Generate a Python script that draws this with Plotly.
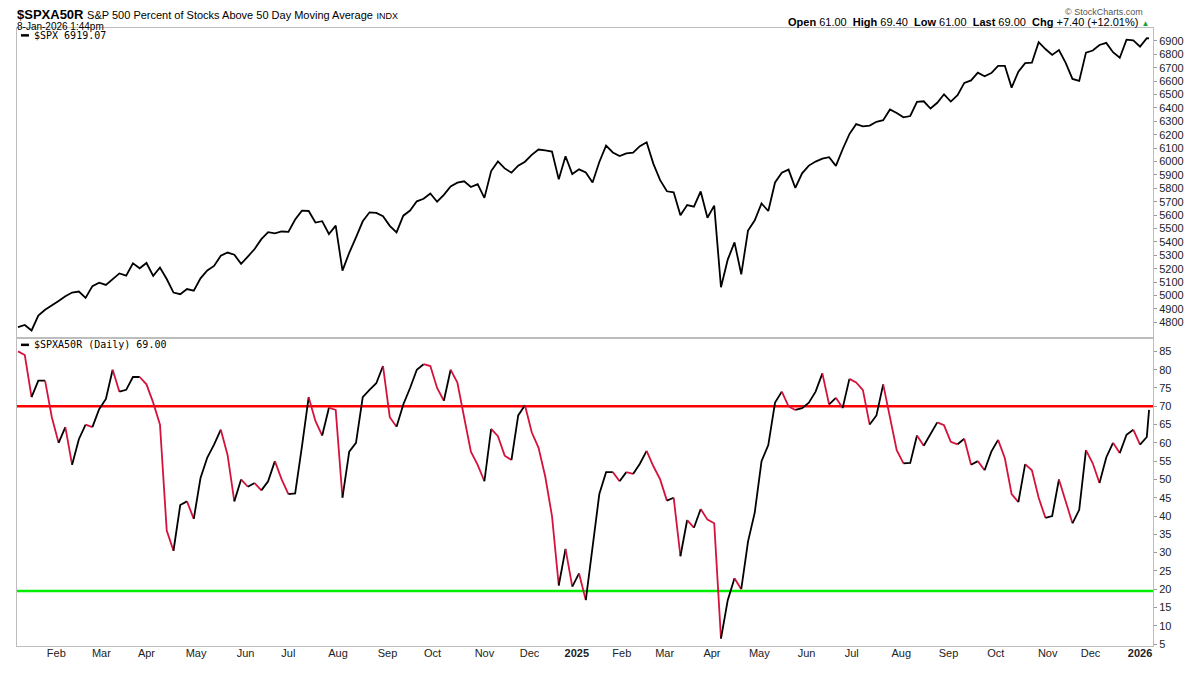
import pandas as pd
import plotly.graph_objects as go

# NYSE holidays inside the window (chart runs on trading days only)
HOLIDAYS = [
    "2024-01-15", "2024-02-19", "2024-03-29", "2024-05-27", "2024-06-19", "2024-07-04",
    "2024-09-02", "2024-11-28", "2024-12-25", "2025-01-01", "2025-01-09", "2025-01-20",
    "2025-02-17", "2025-04-18", "2025-05-26", "2025-06-19", "2025-07-04", "2025-09-01",
    "2025-11-27", "2025-12-25", "2026-01-01",
]
trading = pd.bdate_range("2024-01-08", "2026-01-08", freq="C", holidays=HOLIDAYS)
dates = trading[::3].append(trading[-1:])   # every third session + last one

# $SPX close
spx = [
    4764, 4780, 4739, 4850, 4894, 4925,
    4959, 4995, 5022, 5030, 4982, 5070, 5096,
    5079, 5124, 5165, 5149, 5241, 5203,
    5243, 5147, 5209, 5123, 5022, 5010, 5048, 5036,
    5128, 5187, 5221, 5297, 5321, 5305, 5236,
    5291, 5347, 5421, 5473, 5464, 5478,
    5475, 5567, 5633, 5631, 5545, 5555, 5459, 5522,
    5186, 5319, 5434, 5554, 5621, 5617, 5592,
    5520, 5471, 5596, 5634, 5703, 5722, 5762,
    5700, 5751, 5815, 5842, 5853, 5810, 5832,
    5729, 5929, 6001, 5949, 5917, 5969, 5999,
    6050, 6090, 6084, 6074, 5867, 6040, 5907,
    5942, 5918, 5843, 5997, 6119, 6068, 6041,
    6061, 6066, 6115, 6144, 5983, 5861,
    5778, 5770, 5599, 5675, 5663, 5777, 5581,
    5671, 5062, 5268, 5397, 5158, 5485, 5561,
    5687, 5631, 5844, 5917, 5940, 5803, 5912,
    5970, 6000, 6022, 6033, 5968, 6092, 6205,
    6279, 6263, 6269, 6297, 6309, 6389, 6362,
    6330, 6340, 6446, 6450, 6396, 6439, 6502,
    6448, 6495, 6587, 6606, 6664, 6637, 6661,
    6715, 6715, 6552, 6671, 6735, 6738, 6891, 6840,
    6796, 6832, 6737, 6617, 6602, 6813,
    6829, 6870, 6886, 6816, 6775, 6910, 6905,
    6858, 6921, 6919.07,
]

# $SPXA50R
pct = [
    85, 84, 72.5, 77, 77, 67,
    60, 64.3, 54, 61, 65, 64.3, 69.2,
    72, 80, 74, 74.5, 78, 78,
    76, 71, 65, 36, 30.5, 43, 44, 39.2,
    50.4, 56, 59.5, 63.6, 56.7, 44, 50,
    48, 49, 47, 49.5, 55, 50,
    46, 46.2, 59, 72.5, 66, 62, 69.6, 69,
    45, 57.6, 60, 72.5, 74.5, 76.3, 81,
    67, 64.4, 70.5, 75, 80, 81.5, 81,
    75, 71.5, 80, 76.5, 67, 57.6, 54,
    49.5, 63.8, 61.8, 56.5, 55.3, 67.5, 70.3,
    62.9, 58.7, 50.8, 40, 21, 31, 20.7,
    24.3, 17, 31, 46, 52, 52, 49.5,
    52, 51.5, 54.3, 57.8, 53.6, 50,
    44.2, 45, 29, 38.9, 36.8, 41.9, 39,
    38, 6.5, 17, 23, 20, 33, 41,
    55, 59.4, 71, 74, 70, 69, 69.5,
    71, 74, 79, 70.5, 72.3, 69.5, 77.5,
    76.5, 74.4, 65, 67.5, 76, 67.4, 58,
    54.4, 54.5, 62, 59.2, 62.3, 65.6, 64.8,
    60.3, 59.6, 61.1, 54, 55, 52.5, 57.6,
    60.8, 55.8, 46, 43.8, 54.2, 52.5, 45, 39.5,
    40, 50, 44, 38, 41.7, 58,
    54.4, 49, 56, 60, 57.2, 62.2, 63.6,
    59.5, 61.6, 69.0,
]

month_labels = [
    "Feb", "Mar", "Apr", "May", "Jun", "Jul", "Aug", "Sep", "Oct", "Nov", "Dec",
    "<b>2025</b>", "Feb", "Mar", "Apr", "May", "Jun", "Jul", "Aug", "Sep", "Oct", "Nov", "Dec",
    "<b>2026</b>",
]
spx_ticks = list(range(4800, 7000, 100))
pct_ticks = list(range(5, 90, 5))
upper_level = 70
lower_level = 19.5

# first session of each month -> x ticks
firsts = trading.to_series().groupby(trading.to_period("M")).first()
month_ticks = list(firsts.iloc[1:])

# page geometry in screen pixels; the browser keeps its 8px body margin,
# so the figure is 16px smaller than the 1200x675 window
PAD = 8
W, H = 1200 - 2 * PAD, 675 - 2 * PAD
L, R, T, B = 16, 1156, 28, 658   # plot area on screen
SPLIT = 344                      # border between the two panels


def px(x):
    return (x - L) / (R - L)


def py(y):
    return (B - y) / (B - T)


fig = go.Figure()

fig.add_trace(go.Scatter(
    x=dates, y=spx, mode="lines", xaxis="x2", yaxis="y2",
    line=dict(color="black", width=1.8), hoverinfo="skip",
))

# split the indicator into rising (black) and falling (red) runs
xs = list(dates)
runs = []
cur = None
for i in range(len(pct) - 1):
    up = pct[i + 1] >= pct[i]
    if cur is None or cur[0] != up:
        cur = [up, [xs[i]], [pct[i]]]
        runs.append(cur)
    cur[1].append(xs[i + 1])
    cur[2].append(pct[i + 1])

for up, rx, ry in runs:
    fig.add_trace(go.Scatter(
        x=rx, y=ry, mode="lines", xaxis="x", yaxis="y",
        line=dict(color="black" if up else "#d4123c", width=1.8),
        hoverinfo="skip",
    ))

axis_font = dict(family="Liberation Sans, Arial, sans-serif", size=11, color="#222")
rb = [dict(bounds=["sat", "mon"]), dict(values=HOLIDAYS)]
xrange = ["2024-01-05 13:00", "2026-01-09 18:00"]
frame = dict(showgrid=False, zeroline=False, showline=True, mirror=True,
             linecolor="#bdbdbd", linewidth=1)

fig.update_layout(
    width=W, height=H,
    margin=dict(l=L - PAD, r=W + PAD - R, t=T - PAD, b=H + PAD - B),
    paper_bgcolor="white", plot_bgcolor="white",
    showlegend=False,
    xaxis=dict(
        domain=[0, 1], anchor="y", range=xrange, rangebreaks=rb,
        tickvals=month_ticks, ticktext=month_labels, ticks="",
        ticklabelstandoff=-3, tickfont=axis_font, **frame,
    ),
    xaxis2=dict(
        domain=[0, 1], anchor="y2", matches="x", range=xrange, rangebreaks=rb,
        showticklabels=False, ticks="", **frame,
    ),
    yaxis=dict(
        domain=[0, py(SPLIT)], side="right", range=[4.46, 88.67],
        tickvals=pct_ticks, ticks="outside", ticklen=3, tickcolor="#999",
        tickfont=axis_font, **frame,
    ),
    yaxis2=dict(
        domain=[py(SPLIT), 1], side="right", range=[4683, 6997],
        tickvals=spx_ticks, ticks="outside", ticklen=3, tickcolor="#999",
        tickfont=axis_font, **frame,
    ),
)

fig.add_shape(type="line", xref="x domain", yref="y", x0=0, x1=1,
              y0=upper_level, y1=upper_level, line=dict(color="#ff0000", width=2.5), layer="below")
fig.add_shape(type="line", xref="x domain", yref="y", x0=0, x1=1,
              y0=lower_level, y1=lower_level, line=dict(color="#00ee00", width=2.5), layer="below")

# panel legends
mono = dict(family="DejaVu Sans Mono, monospace", size=10, color="black")
for ly, label in [(35.5, f"$SPX {spx[-1]:.2f}"), (351, f"$SPXA50R (Daily) {pct[-1]:.2f}")]:
    fig.add_shape(type="line", xref="paper", yref="paper",
                  x0=px(20), x1=px(28), y0=py(ly), y1=py(ly),
                  line=dict(color="black", width=2.5))
    fig.add_annotation(xref="paper", yref="paper", x=px(31), y=py(ly), text=label,
                       showarrow=False, xanchor="left", yanchor="middle", font=mono)

head = dict(family="Liberation Sans, Arial, sans-serif", color="black")
fig.add_annotation(
    xref="paper", yref="paper", x=px(14), y=py(14.5), showarrow=False,
    xanchor="left", yanchor="middle", font=dict(head, size=13),
    text="<b>$SPXA50R</b> <span style='font-size:11px'>S&amp;P 500 Percent of Stocks Above 50 Day Moving Average</span>"
         " <span style='font-size:9px'>INDX</span>",
)
fig.add_annotation(
    xref="paper", yref="paper", x=px(14), y=py(26.5), showarrow=False,
    xanchor="left", yanchor="middle", font=dict(head, size=10),
    text="8-Jan-2026 1:44pm",
)
fig.add_annotation(
    xref="paper", yref="paper", x=px(1148), y=py(12), showarrow=False,
    xanchor="right", yanchor="middle", font=dict(head, size=9, color="#555"),
    text="© StockCharts.com",
)
fig.add_annotation(
    xref="paper", yref="paper", x=px(1154), y=py(21.5), showarrow=False,
    xanchor="right", yanchor="middle", font=dict(head, size=11),
    text="<b>Open</b> 61.00  <b>High</b> 69.40  <b>Low</b> 61.00  <b>Last</b> 69.00  "
         "<b>Chg</b> +7.40 (+12.01%) <span style='font-size:8px;color:#1f9e3a'>▲</span>",
)

fig.write_html("out.html", config={"displayModeBar": False})
